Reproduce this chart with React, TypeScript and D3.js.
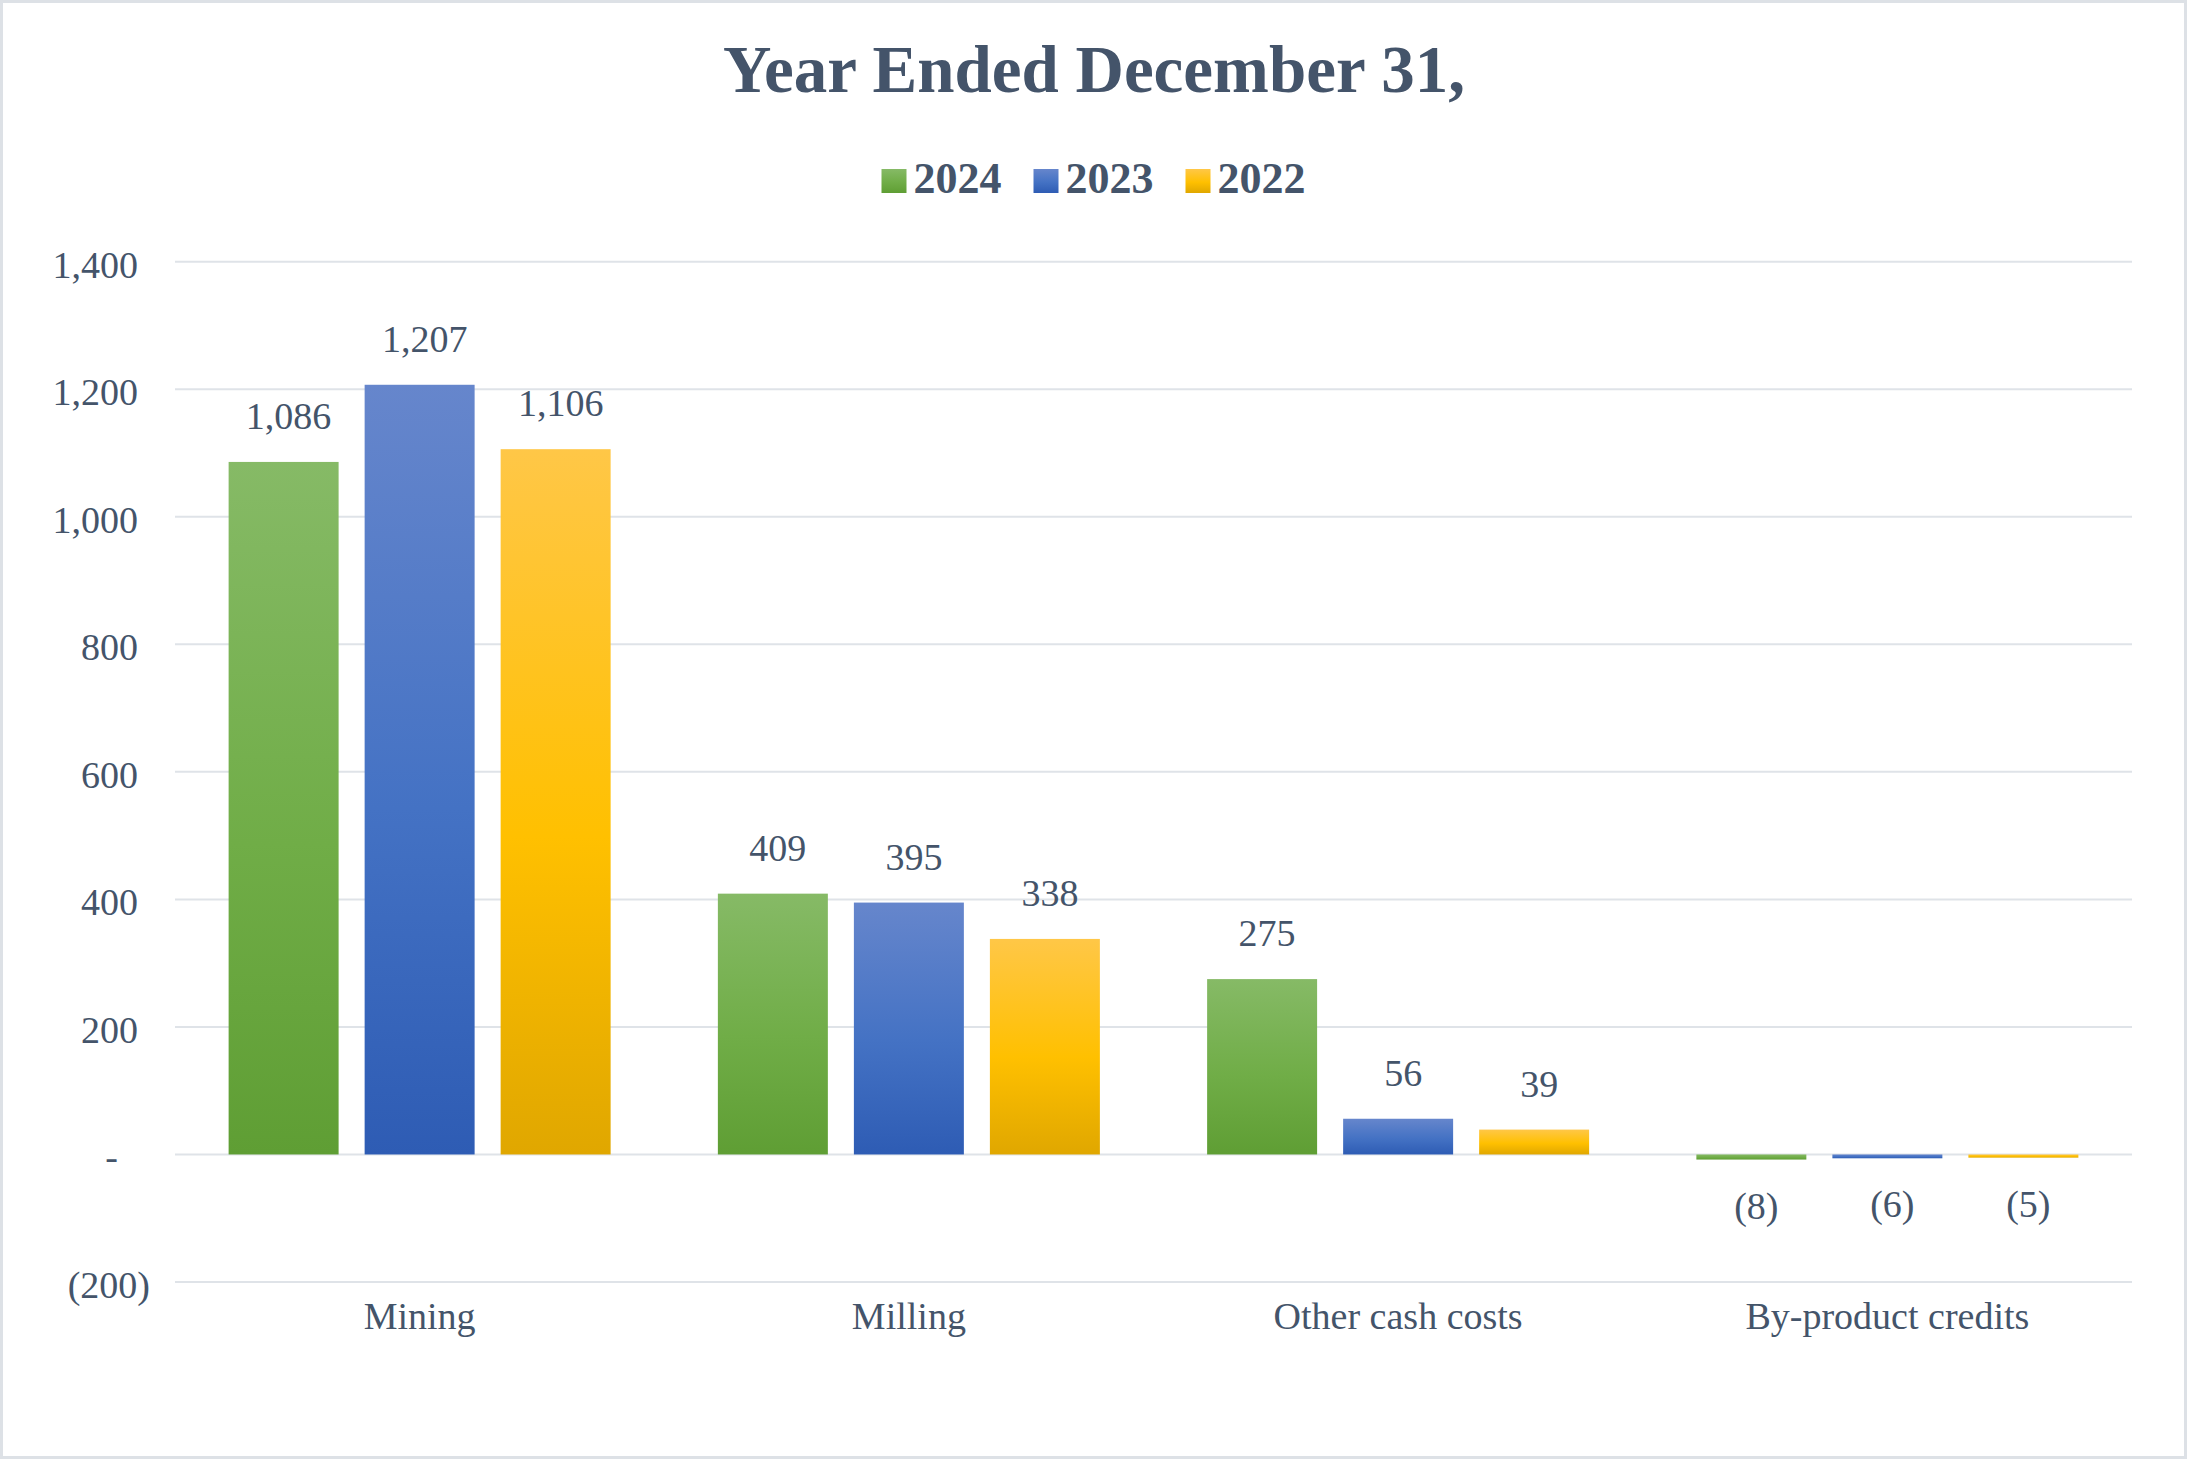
import React from "react";
import * as d3 from "d3";

const categories = ["Mining", "Milling", "Other cash costs", "By-product credits"];
const seriesNames = ["2024", "2023", "2022"];
const values2024 = [1086, 409, 275, -8];
const values2023 = [1207, 395, 56, -6];
const values2022 = [1106, 338, 39, -5];
const yTicks = [-200, 0, 200, 400, 600, 800, 1000, 1200, 1400];

const W = 2188;
const H = 1460;
const FONT = "'Liberation Serif', 'Times New Roman', serif";
const TEXT = "#44546a";

const gradients = [
  { id: "g2024", top: "#86ba66", mid: "#70ad47", bot: "#5f9e34" },
  { id: "g2023", top: "#6686cc", mid: "#4472c4", bot: "#2e5cb4" },
  { id: "g2022", top: "#ffc747", mid: "#ffc000", bot: "#e0a700" },
];

const fmtNum = d3.format(",");
const fmt = (v: number) => (v < 0 ? `(${fmtNum(-v)})` : v === 0 ? "-" : fmtNum(v));

export default function App() {
  const series = [values2024, values2023, values2022];
  const x = d3.scaleBand<string>().domain(categories).range([175, 2132]).padding(0);
  const y = d3.scaleLinear().domain([-200, 1400]).range([1282, 261.7]);
  const bw = x.bandwidth();
  const barW = bw * 0.2248;
  const step = bw * 0.278;

  const legendStep = 152;
  const legendW = 2 * legendStep + 25 + 7 + 89;
  const legendX0 = W / 2 - legendW / 2;

  return (
    <svg
      width={W}
      height={H}
      style={{ position: "absolute", left: 0, top: 0, background: "#fff" }}
      fontFamily={FONT}
    >
      <defs>
        {gradients.map((g) => (
          <linearGradient key={g.id} id={g.id} x1="0" y1="0" x2="0" y2="1">
            <stop offset="0" stopColor={g.top} />
            <stop offset="0.55" stopColor={g.mid} />
            <stop offset="1" stopColor={g.bot} />
          </linearGradient>
        ))}
      </defs>
      <rect x={1.5} y={1.5} width={W - 4} height={H - 4} fill="#fff" stroke="#dde1e6" strokeWidth={3} />

      <text x={W / 2} y={92} textAnchor="middle" fontSize={67} fontWeight="bold" fill={TEXT}>
        Year Ended December 31,
      </text>

      {seriesNames.map((s, i) => (
        <g key={s} transform={`translate(${legendX0 + i * legendStep},0)`}>
          <rect x={0} y={169} width={25} height={24} fill={`url(#${gradients[i].id})`} />
          <text x={32} y={193} fontSize={44} fontWeight="bold" fill={TEXT}>
            {s}
          </text>
        </g>
      ))}

      {yTicks.map((t) => (
        <line key={t} x1={175} x2={2132} y1={y(t)} y2={y(t)} stroke="#dfe3e8" strokeWidth={2} />
      ))}

      {yTicks.map((t) => (
        <text
          key={t}
          x={t < 0 ? 150 : t === 0 ? 118 : 138}
          y={y(t) + 16}
          textAnchor="end"
          fontSize={38}
          fill={TEXT}
        >
          {fmt(t)}
        </text>
      ))}

      {categories.map((c, ci) => (
        <g key={c}>
          {series.map((vals, si) => {
            const v = vals[ci];
            const cx = (x(c) as number) + bw / 2 + (si - 1) * step;
            const y0 = y(0);
            const y1 = y(v);
            return (
              <g key={si}>
                <rect
                  x={cx - barW / 2}
                  y={Math.min(y0, y1)}
                  width={barW}
                  height={Math.abs(y1 - y0)}
                  fill={`url(#${gradients[si].id})`}
                />
                <text
                  x={cx + (v < 0 ? 5 : 5)}
                  y={v < 0 ? y1 + 59 : y1 - 33}
                  textAnchor="middle"
                  fontSize={38}
                  fill={TEXT}
                >
                  {fmt(v)}
                </text>
              </g>
            );
          })}
          <text x={(x(c) as number) + bw / 2} y={1329} textAnchor="middle" fontSize={38} fill={TEXT}>
            {c}
          </text>
        </g>
      ))}
    </svg>
  );
}
